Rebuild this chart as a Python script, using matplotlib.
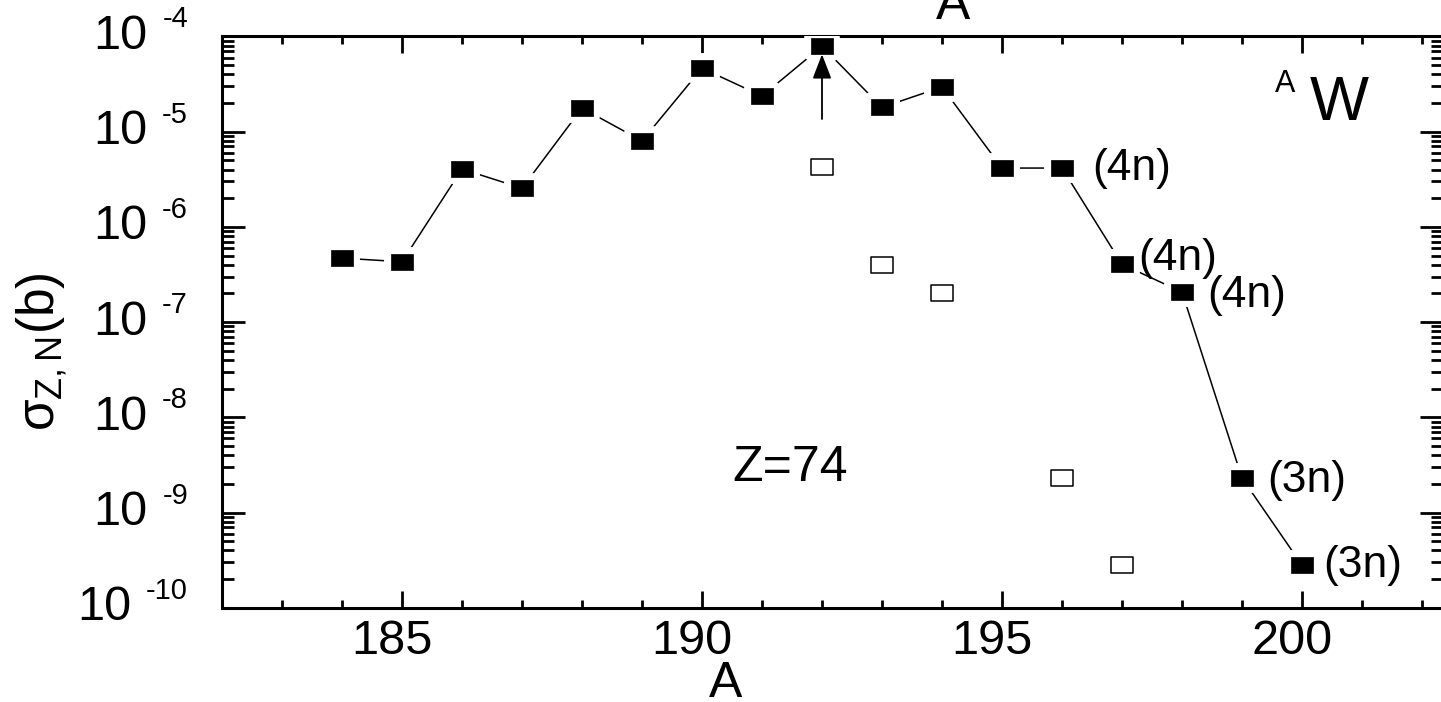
import numpy as np
import matplotlib
matplotlib.use("Agg")
import matplotlib.pyplot as plt
from matplotlib.path import Path
from matplotlib.ticker import MultipleLocator, LogLocator, NullFormatter
from matplotlib.transforms import ScaledTranslation

plt.rcParams["font.family"] = ["Liberation Sans", "DejaVu Sans"]
plt.rcParams["mathtext.fontset"] = "custom"
plt.rcParams["mathtext.rm"] = "Liberation Sans"
plt.rcParams["mathtext.it"] = "Liberation Sans"
plt.rcParams["mathtext.bf"] = "Liberation Sans:bold"

# measured W isotopes (filled) and the open comparison points
mass_meas = [184, 185, 186, 187, 188, 189, 190, 191, 192, 193, 194, 195, 196, 197, 198, 199, 200]
sigma_meas = [4.7e-7, 4.3e-7, 4.05e-6, 2.55e-6, 1.77e-5, 8.0e-6, 4.65e-5, 2.37e-5, 7.9e-5,
              1.8e-5, 2.95e-5, 4.15e-6, 4.15e-6, 4.05e-7, 2.07e-7, 2.3e-9, 2.8e-10]
mass_open = [192, 193, 194, 196, 197]
sigma_open = [4.25e-6, 4.0e-7, 2.03e-7, 2.3e-9, 2.8e-10]

# neutron-evaporation tags next to the heavy isotopes
tag_mass = [196, 197, 198, 199, 200]
tag_text = ["(4n)", "(4n)", "(4n)", "(3n)", "(3n)"]
tag_shift = [(30, 0), (16, 6), (25, -3), (25, -2), (21, 0)]  # pixels

# lower-limit arrow on A=192
arrow_mass = 192
arrow_tail = 1.36e-5
arrow_tip = 6.5e-5

y_exps = [-4, -5, -6, -7, -8, -9, -10]
x_major = [185, 190, 195, 200]

fig = plt.figure(figsize=(14.41, 7.02), dpi=100)
ax = fig.add_axes([222 / 1441, 94.3 / 702, 1221 / 1441, 571.2 / 702])

# rectangular marker, wider than tall
rect = Path([(-1, -0.77), (1, -0.77), (1, 0.77), (-1, 0.77), (-1, -0.77)],
            [Path.MOVETO, Path.LINETO, Path.LINETO, Path.LINETO, Path.CLOSEPOLY])

ax.plot(mass_meas, sigma_meas, color="black", lw=1.1, zorder=2)
# white halo so the connecting line stops short of each marker
ax.plot(mass_meas, sigma_meas, ls="none", marker=rect, ms=15.8, mfc="white",
        mec="white", mew=10, zorder=3)
ax.plot(mass_meas, sigma_meas, ls="none", marker=rect, ms=15.8, mfc="black",
        mec="black", mew=0.5, zorder=4)
ax.plot(mass_open, sigma_open, ls="none", marker=rect, ms=15.5, mfc="white",
        mec="black", mew=1.1, zorder=4)

ax.annotate("", xy=(arrow_mass, arrow_tip), xytext=(arrow_mass, arrow_tail),
            arrowprops=dict(arrowstyle="-|>,head_length=1.5,head_width=0.58",
                            mutation_scale=10, lw=1.3, color="black",
                            shrinkA=0, shrinkB=0), zorder=5)

for m, t, (dx, dy) in zip(tag_mass, tag_text, tag_shift):
    s = sigma_meas[mass_meas.index(m)]
    ax.annotate(t, xy=(m, s), xytext=(dx, dy), textcoords="offset pixels",
                ha="left", va="center", fontsize=32)

ax.set_yscale("log")
ax.set_ylim(1e-10, 1e-4)
ax.set_xlim(182, 182 + 1221 / 60)

ax.xaxis.set_major_locator(MultipleLocator(5))
ax.xaxis.set_minor_locator(MultipleLocator(1))
ax.set_xticks(x_major)
ax.yaxis.set_major_locator(LogLocator(base=10, numticks=20))
ax.yaxis.set_minor_locator(LogLocator(base=10, subs=np.arange(2, 10), numticks=20))
ax.yaxis.set_minor_formatter(NullFormatter())

for s in ax.spines.values():
    s.set_linewidth(2.2)
ax.tick_params(axis="x", which="major", direction="in", length=12, width=2,
               top=True, labelsize=35, pad=8)
ax.tick_params(axis="x", which="minor", direction="in", length=6, width=2, top=True)
ax.tick_params(axis="y", which="major", direction="in", length=16.5, width=2,
               right=True, labelleft=False)
ax.tick_params(axis="y", which="minor", direction="in", length=8.5, width=2, right=True)

shift = ScaledTranslation(-10 / 100, 0, fig.dpi_scale_trans)
for lab in ax.get_xticklabels():
    lab.set_transform(lab.get_transform() + shift)

# decade labels drawn as "10" plus a raised exponent with a gap
fig.canvas.draw()
renderer = fig.canvas.get_renderer()
for e in y_exps:
    ex = ax.annotate(f"{e}", xy=(0, 10.0 ** e), xycoords=("axes fraction", "data"),
                     xytext=(-34, 17), textcoords="offset pixels",
                     ha="right", va="center", fontsize=21, annotation_clip=False)
    w = ex.get_window_extent(renderer).width
    ax.annotate("10", xy=(0, 10.0 ** e), xycoords=("axes fraction", "data"),
                xytext=(-34 - w - 15, 0), textcoords="offset pixels",
                ha="right", va="center", fontsize=35, annotation_clip=False)

fig.text(726 / 1441, 5 / 702, "A", ha="center", va="baseline", fontsize=36)
ax.text(0.599, 1.030, "A", transform=ax.transAxes, ha="center", va="baseline",
        fontsize=37, clip_on=False)
fig.text(42 / 1441, 1 - 352 / 702, r"$\sigma_{Z,N}$(b)", rotation=90,
         ha="center", va="center", fontsize=37)

ax.text(0.418, 0.222, "Z=74", transform=ax.transAxes, ha="left", va="baseline",
        fontsize=36)
ax.text(0.862, 0.9036, "A", transform=ax.transAxes, ha="left", va="baseline",
        fontsize=22)
ax.text(0.8905, 0.8546, "W", transform=ax.transAxes, ha="left", va="baseline",
        fontsize=45)

fig.savefig("out.png", dpi=100)
